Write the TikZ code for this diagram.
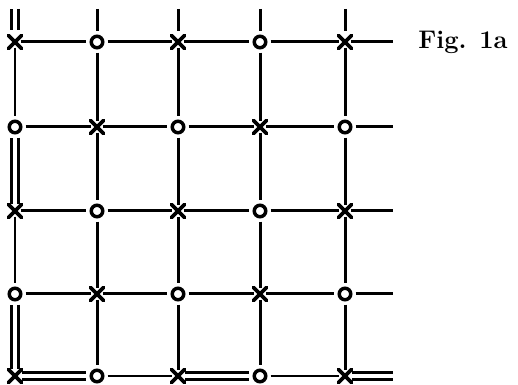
\documentclass[tikz,border=0pt]{standalone}
\tikzset{
  xnode/.style={rectangle, minimum size=0.34cm, inner sep=0pt, outer sep=-0.055cm,
    path picture={\draw[line width=0.075cm, line cap=round]
      ([shift={(0.04cm,-0.04cm)}]path picture bounding box.north west) -- ([shift={(-0.04cm,0.04cm)}]path picture bounding box.south east)
      ([shift={(-0.04cm,-0.04cm)}]path picture bounding box.north east) -- ([shift={(0.04cm,0.04cm)}]path picture bounding box.south west);}},
  onode/.style={circle, draw, line width=0.07cm, minimum size=0.23cm, inner sep=0pt, outer sep=0.1cm},
  bond/.style={line width=0.06cm},
  dbond/.style={line width=0.06cm, double, double distance=0.07cm},
}
\begin{document}
\begin{tikzpicture}[x=0.02cm, y=-0.02cm]
		\useasboundingbox (0,0) rectangle (518,385);

		% Lattice sites: x and o alternate
		\foreach \y [count=\j from 0] in {42,127,211,294,376} {
			\foreach \x [count=\i from 0] in {15,97,178,260,345} {
				\ifodd\numexpr\i+\j\relax
					\node[onode] (n-\i-\j) at (\x,\y) {};
				\else
					\node[xnode] (n-\i-\j) at (\x,\y) {};
				\fi
			}
		}

		% Single bonds inside the lattice
		\foreach \j in {0,1,2,3} {
			\foreach \i/\k in {0/1,1/2,2/3,3/4} {
				\draw[bond] (n-\i-\j) -- (n-\k-\j);
			}
		}
		\foreach \i in {1,2,3,4} {
			\foreach \j/\k in {0/1,1/2,2/3,3/4} {
				\draw[bond] (n-\i-\j) -- (n-\i-\k);
			}
		}
		\draw[bond] (n-0-0) -- (n-0-1);
		\draw[bond] (n-0-2) -- (n-0-3);
		\draw[bond] (n-1-4) -- (n-2-4);
		\draw[bond] (n-3-4) -- (n-4-4);

		% Double bonds along the left and bottom edges
		\draw[dbond, shorten >=0.03cm] (n-0-1) -- (n-0-2);
		\draw[dbond, shorten >=0.03cm] (n-0-3) -- (n-0-4);
		\draw[dbond, shorten <=0.03cm] (n-0-4) -- (n-1-4);
		\draw[dbond, shorten <=0.03cm] (n-2-4) -- (n-3-4);

		% Open ends at the top
		\foreach \x [count=\i from 0] in {15,97,178,260,345}
			\coordinate (t-\i) at (\x,9);
		\draw[dbond, shorten >=0.12cm] (t-0) -- (n-0-0);
		\draw[bond, shorten >=0.1cm] (t-2) -- (n-2-0);
		\draw[bond, shorten >=0.1cm] (t-4) -- (n-4-0);
		\draw[bond] (t-1) -- (n-1-0);
		\draw[bond] (t-3) -- (n-3-0);

		% Open ends at the right
		\foreach \y [count=\j from 0] in {42,127,211,294,376}
			\coordinate (r-\j) at (393,\y);
		\foreach \j in {0,...,3}
			\draw[bond] (n-4-\j) -- (r-\j);
		\draw[dbond, shorten <=0.03cm] (n-4-4) -- (r-4);

		% Caption
		\node[font=\fontsize{14.5}{16}\selectfont\bfseries] (caption) at (463,42) {Fig. 1a};
	\end{tikzpicture}
\end{document}
